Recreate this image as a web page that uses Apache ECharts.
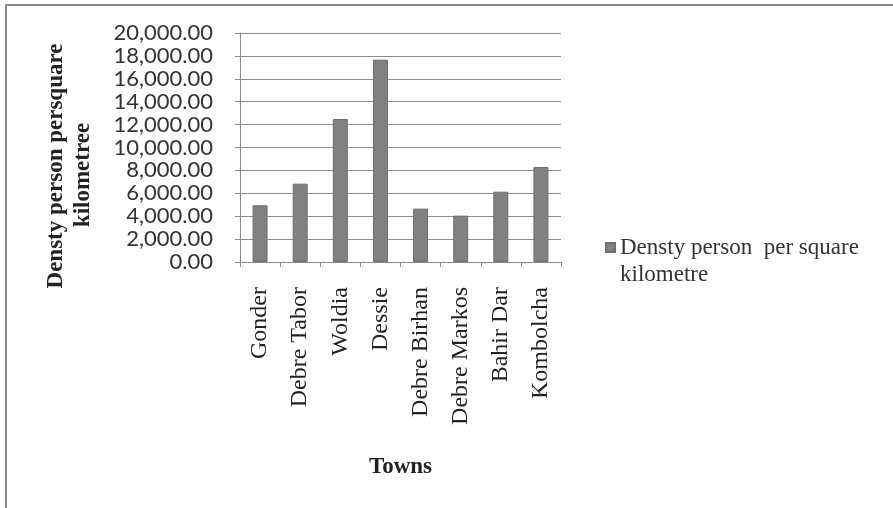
<!DOCTYPE html>
<html>
<head>
<meta charset="utf-8">
<script src="https://cdn.jsdelivr.net/npm/echarts@6/dist/echarts.min.js"></script>
<style>
  html, body { margin: 0; padding: 0; background: #ffffff; }
  #chart { width: 893px; height: 508px; }
</style>
</head>
<body>
<div id="chart"></div>
<script>
// Population density by town (persons per square kilometre)
const towns = ['Gonder', 'Debre Tabor', 'Woldia', 'Dessie', 'Debre Birhan', 'Debre Markos', 'Bahir Dar', 'Kombolcha'];
const density = [4950, 6840, 12490, 17670, 4660, 4050, 6140, 8300];
const seriesName = 'Densty person  per square kilometre';
const legendLines = ['Densty person  per square', 'kilometre'];
const yTitleLines = ['Densty person persquare', 'kilometree'];
const xTitle = 'Towns';

const serif = '"Liberation Serif", "Times New Roman", serif';
const sans = 'Lato, "Open Sans", sans-serif';

const chart = echarts.init(document.getElementById('chart'), null, { renderer: 'canvas' });

const fmt = v => v.toLocaleString('en-US', { minimumFractionDigits: 2, maximumFractionDigits: 2 });

chart.setOption({
  backgroundColor: '#ffffff',
  animation: false,
  grid: { left: 240, right: 332, top: 33, bottom: 246, containLabel: false },
  legend: {
    left: 600,
    top: 202,
    orient: 'vertical',
    icon: 'rect',
    itemWidth: 9,
    itemHeight: 9,
    itemGap: 0,
    // leading blank line keeps the swatch level with the first text line
    formatter: () => '\n' + legendLines.join('\n'),
    textStyle: {
      fontFamily: serif,
      fontSize: 23,
      color: '#333333',
      lineHeight: 27
    },
    data: [seriesName]
  },
  xAxis: {
    type: 'category',
    data: towns,
    name: xTitle,
    nameLocation: 'middle',
    nameGap: 194,
    nameTextStyle: { fontFamily: serif, fontSize: 23, fontWeight: 'bold', color: '#222222' },
    axisLine: { lineStyle: { color: '#8a8a8a', width: 1 } },
    axisTick: { show: true, alignWithLabel: false, length: 5, lineStyle: { color: '#8a8a8a' } },
    axisLabel: {
      rotate: 90,
      margin: 25,
      fontFamily: serif,
      fontSize: 24,
      color: '#222222',
      interval: 0
    }
  },
  yAxis: {
    type: 'value',
    min: 0,
    max: 20000,
    interval: 2000,
    axisLine: { show: true, lineStyle: { color: '#8a8a8a', width: 1 } },
    axisTick: { show: true, length: 5, lineStyle: { color: '#8a8a8a' } },
    splitLine: { show: true, lineStyle: { color: '#8c8c8c', width: 1 } },
    axisLabel: {
      margin: 27,
      fontFamily: sans,
      fontSize: 22,
      color: '#333333',
      formatter: fmt
    }
  },
  graphic: [
    {
      type: 'rect',
      shape: { x: 6, y: 5, width: 900, height: 520 },
      style: { fill: 'none', stroke: '#8a8a8a', lineWidth: 2 },
      silent: true
    },
    {
      type: 'text',
      x: 56, y: 166, rotation: Math.PI / 2,
      style: {
        text: yTitleLines[0],
        fontFamily: serif, fontSize: 23, fontWeight: 'bold',
        fill: '#222222', align: 'center', verticalAlign: 'middle'
      }
    },
    {
      type: 'text',
      x: 83, y: 175, rotation: Math.PI / 2,
      style: {
        text: yTitleLines[1],
        fontFamily: serif, fontSize: 23, fontWeight: 'bold',
        fill: '#222222', align: 'center', verticalAlign: 'middle'
      }
    }
  ],
  series: [
    {
      name: seriesName,
      type: 'bar',
      data: density,
      barWidth: 15,
      itemStyle: { color: '#818181', borderColor: '#6e6e6e', borderWidth: 1 }
    }
  ]
});
</script>
</body>
</html>
